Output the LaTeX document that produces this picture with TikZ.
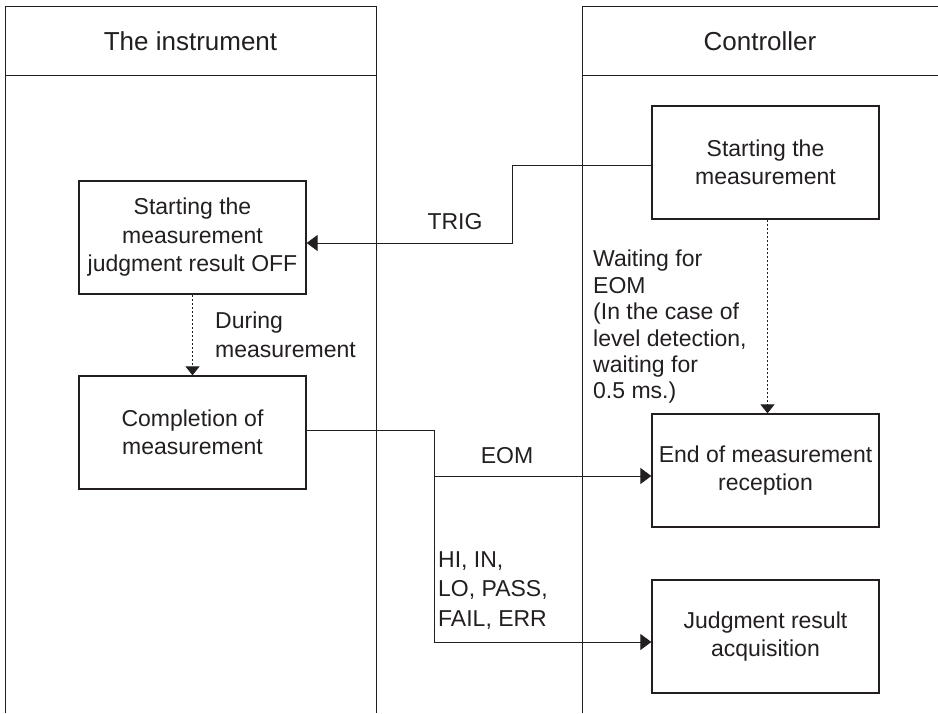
\documentclass[tikz,border=0pt]{standalone}
\usepackage{fontspec}
\setmainfont{Liberation Sans}
\usetikzlibrary{arrows.meta}
\definecolor{ink}{RGB}{35,31,32}
\newcommand\fntBody{\fontsize{23}{28.5}\selectfont}
\newcommand\fntHead{\fontsize{26}{31}\selectfont}
\newcommand\fntDur{\fontsize{23}{29}\selectfont}
\newcommand\fntWait{\fontsize{23}{26.4}\selectfont}
\newcommand\fntHi{\fontsize{23}{29.5}\selectfont}
\begin{document}
\begin{tikzpicture}[x=1pt,y=-1pt,
  lane/.style={draw=ink, line width=1pt},
  box/.style={draw=ink, line width=1.3pt, minimum width=227pt, minimum height=113pt,
    align=center, inner sep=0pt, font=\fntBody, text=ink},
  lbl/.style={inner sep=0pt, align=left, font=\fntBody, text=ink},
  head/.style={inner sep=0pt, font=\fntHead, text=ink},
  conn/.style={draw=ink, line width=1pt},
  arr/.style={conn, -{Triangle[length=11pt,width=16pt]}},
  dotarr/.style={conn, -{Triangle[length=9pt,width=14pt]}, dash pattern=on 2pt off 2pt}]
\useasboundingbox (0,0) rectangle (938,713);
% lanes
\draw[lane] (5,713) -- (5,6) -- (376,6) -- (376,713);
\draw[lane] (5,75) -- (376,75);
\draw[lane] (582,713) -- (582,6) -- (938,6);
\draw[lane] (582,75) -- (938,75);
\node[head] (lhead) at (190.5,41) {The instrument};
\node[head] (rhead) at (760,41) {Controller};
% boxes
\node[box] (lbox) at (192.5,237.5) {Starting the\\measurement\\judgment result OFF};
\node[box] (cbox) at (192.5,432.5) {Completion of\\measurement};
\node[box] (sbox) at (765.5,162.5) {Starting the\\measurement};
\node[box] (ebox) at (765.5,470.5) {End of measurement\\reception};
\node[box] (jbox) at (765.5,636.5) {Judgment result\\acquisition};
% connectors
\draw[arr] ([yshift=-2.5pt]sbox.west) -- (512,165) |- ([yshift=-5.5pt]lbox.east);
\draw[dotarr] (lbox.south) -- (cbox.north);
\draw[dotarr] ([xshift=2pt]sbox.south) -- ([xshift=2pt]ebox.north);
\coordinate (split) at (434,476);
\draw[arr] ([yshift=2.5pt]cbox.east) -- (434,430) |- ([yshift=-5.5pt]ebox.west);
\draw[arr] (split) |- ([yshift=-5.5pt]jbox.west);
% labels
\node[lbl] (trig) at (455,222) {TRIG};
\node[lbl] (eom) at (507,456) {EOM};
\node[lbl, font=\fntDur, anchor=north west] (during) at (215,312) {During\\measurement};
\node[lbl, font=\fntWait, anchor=north west] (wait) at (593,250) {Waiting for\\EOM\\(In the case of\\level detection,\\waiting for\\0.5 ms.)};
\node[lbl, font=\fntHi, anchor=north west] (hi) at (438,551) {HI, IN,\\LO, PASS,\\FAIL, ERR};
\end{tikzpicture}
\end{document}
